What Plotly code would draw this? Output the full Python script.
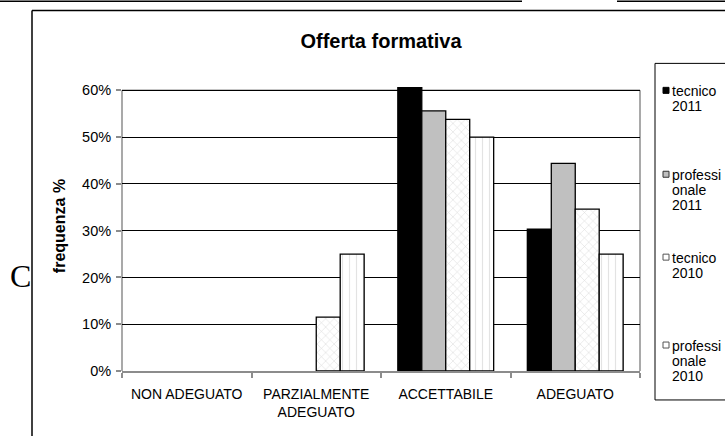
import plotly.graph_objects as go

# Survey answers: share of respondents per rating
categories = ["NON ADEGUATO", "PARZIALMENTE<br>ADEGUATO", "ACCETTABILE", "ADEGUATO"]
series_names = ["tecnico 2011", "professionale 2011", "tecnico 2010", "professionale 2010"]
legend_lines = [["tecnico", "2011"], ["professi", "onale", "2011"],
                ["tecnico", "2010"], ["professi", "onale", "2010"]]
tecnico_2011 = [0.0, 0.0, 0.606, 0.303]
professionale_2011 = [0.0, 0.0, 0.556, 0.444]
tecnico_2010 = [0.0, 0.115, 0.538, 0.346]
professionale_2010 = [0.0, 0.25, 0.50, 0.25]
y_ticks = [0, 0.1, 0.2, 0.3, 0.4, 0.5, 0.6]
Y_TOP = 0.62  # headroom so the tallest bar can rise past the 60% frame line

W, H = 725, 436
# pixel frame of the 0..60% region
X_LEFT, X_RIGHT, Y60, Y0 = 122, 640, 90, 371
PX_PER_UNIT = (Y0 - Y60) / 0.6
L, R, B = X_LEFT, W - X_RIGHT, H - Y0
T = Y0 - Y_TOP * PX_PER_UNIT
PW, PH = W - L - R, H - T - B


def px_x(x):
    return (x - L) / PW


def px_y(y):
    return (H - B - y) / PH


fills = [
    dict(color="black"),
    dict(color="#c0c0c0"),
    dict(color="white", pattern=dict(shape="x", fgcolor="#a6a6a6", size=6, solidity=0.14)),
    dict(color="white", pattern=dict(shape="|", fgcolor="#c8c8c8", size=7, solidity=0.16)),
]
swatch_fill = ["black", "#c0c0c0", "white", "white"]
swatch_line = ["black", "#333333", "#555555", "#555555"]
values = [tecnico_2011, professionale_2011, tecnico_2010, professionale_2010]

fig = go.Figure()
for name, vals, st in zip(series_names, values, fills):
    fig.add_trace(go.Bar(
        x=categories, y=vals, name=name, showlegend=False,
        marker=dict(line=dict(color="black", width=[1.3 if v > 0 else 0 for v in vals]), **st),
    ))

grey = "#8c8c8c"
shapes = [
    # plot frame (0..60%), drawn under the bars
    dict(type="line", xref="paper", yref="y", layer="between",
         x0=0, x1=1, y0=0.6, y1=0.6, line=dict(color=grey, width=1.5)),
    dict(type="line", xref="paper", yref="y", layer="between",
         x0=0, x1=0, y0=0, y1=0.6, line=dict(color=grey, width=1.5)),
    dict(type="line", xref="paper", yref="y", layer="between",
         x0=1, x1=1, y0=0, y1=0.6, line=dict(color=grey, width=1.5)),
    # legend frame
    dict(type="rect", xref="paper", yref="paper",
         x0=px_x(655), x1=px_x(735), y0=px_y(400), y1=px_y(63),
         line=dict(color="black", width=1), fillcolor="rgba(0,0,0,0)"),
    # outer chart frame
    dict(type="line", xref="paper", yref="paper",
         x0=px_x(32), x1=px_x(32), y0=px_y(10), y1=px_y(440),
         line=dict(color="black", width=1.5)),
    dict(type="line", xref="paper", yref="paper",
         x0=px_x(32), x1=px_x(730), y0=px_y(10), y1=px_y(10),
         line=dict(color="black", width=1.5)),
    # page rules along the top edge
    dict(type="line", xref="paper", yref="paper",
         x0=px_x(0), x1=px_x(522), y0=px_y(0.7), y1=px_y(0.7),
         line=dict(color="black", width=1.5)),
    dict(type="line", xref="paper", yref="paper",
         x0=px_x(617), x1=px_x(730), y0=px_y(0.7), y1=px_y(0.7),
         line=dict(color="black", width=1.5)),
]

annotations = [dict(text="C", xref="paper", yref="paper", x=px_x(20), y=px_y(276),
                    xanchor="center", yanchor="middle", showarrow=False,
                    font=dict(family="Liberation Serif, Times New Roman, serif", size=32))]

# legend: swatch + wrapped label per series
item_tops = [91, 175, 258, 346]
LINE_STEP = 15.0
for lines, top, fc, lc in zip(legend_lines, item_tops, swatch_fill, swatch_line):
    shapes.append(dict(type="rect", xref="paper", yref="paper",
                       x0=px_x(663), x1=px_x(669), y0=px_y(top + 2), y1=px_y(top - 4),
                       fillcolor=fc, line=dict(color=lc, width=1)))
    for k, line in enumerate(lines):
        annotations.append(dict(text=line, xref="paper", yref="paper",
                                x=px_x(670), y=px_y(top + k * LINE_STEP),
                                xanchor="left", yanchor="middle", showarrow=False,
                                font=dict(size=14)))

fig.update_layout(
    width=W, height=H,
    margin=dict(l=L, r=R, t=T, b=B, autoexpand=False),
    paper_bgcolor="white", plot_bgcolor="white",
    font=dict(family="Liberation Sans, Arial, sans-serif", color="black", size=14),
    title=dict(text="<b>Offerta formativa</b>", x=0.5, xref="paper", xanchor="center",
               y=1 - 41 / H, yref="container", yanchor="middle",
               font=dict(size=20, color="black")),
    barmode="group", bargap=0.26, bargroupgap=0,
    showlegend=False,
    shapes=shapes,
    annotations=annotations,
)

fig.update_yaxes(
    range=[0, Y_TOP], tickvals=y_ticks, tickformat=".0%",
    showgrid=True, gridcolor="black", gridwidth=1,
    showline=False, zeroline=False,
    ticks="outside", ticklen=5, tickcolor=grey, tickwidth=1.5,
    ticklabelstandoff=2, tickfont=dict(size=14.5),
    title=dict(text="<b>frequenza %</b>", font=dict(size=16), standoff=12),
)
fig.update_xaxes(
    showline=True, linecolor=grey, linewidth=1.5, mirror=False,
    ticks="outside", ticklen=5, tickcolor=grey, tickwidth=1.5, tickson="boundaries",
    showgrid=False, tickfont=dict(size=14), ticklabelstandoff=9,
)

fig.write_html("out.html")
